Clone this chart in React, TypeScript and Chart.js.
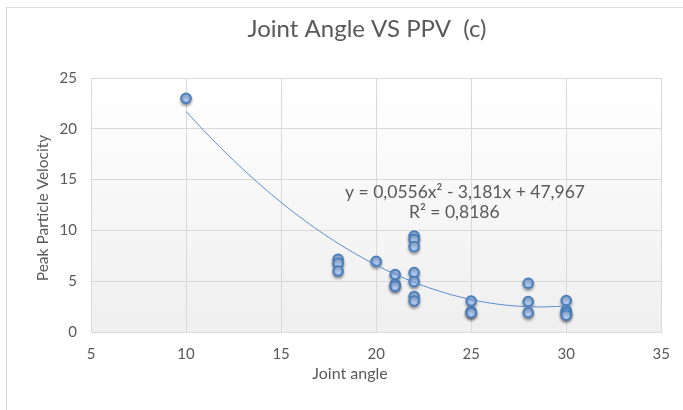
import React, { useEffect, useRef } from "react";
import { Chart, registerables } from "chart.js";

Chart.register(...registerables);

const TITLE = "Joint Angle VS PPV  (c)";
const X_TITLE = "Joint angle";
const Y_TITLE = "Peak Particle Velocity";

const jointAngle = [10, 18, 18, 18, 20, 21, 21, 21, 22, 22, 22, 22, 22, 22, 22, 25, 25, 25, 28, 28, 28, 30, 30, 30, 30];
const ppv = [23.0, 7.15, 6.75, 6.0, 6.95, 5.65, 4.7, 4.5, 9.45, 9.1, 8.4, 5.85, 4.95, 3.5, 3.05, 3.05, 2.0, 1.9, 4.8, 3.0, 1.9, 3.1, 2.1, 1.9, 1.65];

// Trendline coefficients as printed on the chart
const trendA = 0.0556;
const trendB = -3.181;
const trendC = 47.967;
const trendFrom = 10;
const trendTo = 30;
const EQUATION = "y = 0,0556x² - 3,181x + 47,967";
const R2_TEXT = "R² = 0,8186";

const X_MIN = 5, X_MAX = 35, Y_MIN = 0, Y_MAX = 25, STEP = 5;

const FONT = "Lato, 'Open Sans', sans-serif";
const TEXT = "#595959";

export default function App() {
  const ref = useRef<HTMLCanvasElement>(null);
  useEffect(() => {
    document.body.style.margin = "0";
    const canvas = ref.current!;
    const points = jointAngle.map((x, i) => ({ x, y: ppv[i] }));
    const trend: { x: number; y: number }[] = [];
    for (let x = trendFrom; x <= trendTo + 1e-9; x += 0.25) {
      trend.push({ x, y: trendA * x * x + trendB * x + trendC });
    }

    const deco = {
      id: "deco",
      beforeDraw(chart: any) {
        const { ctx, chartArea: a } = chart;
        ctx.save();
        ctx.fillStyle = "#ffffff";
        ctx.fillRect(0, 0, chart.width, chart.height);
        ctx.strokeStyle = "#d9d9d9";
        ctx.lineWidth = 1;
        ctx.strokeRect(6.5, 7.5, 800, 600);
        const g = ctx.createLinearGradient(0, a.top, 0, a.bottom);
        g.addColorStop(0, "#ffffff");
        g.addColorStop(1, "#efefef");
        ctx.fillStyle = g;
        ctx.fillRect(a.left, a.top, a.right - a.left, a.bottom - a.top);
        ctx.restore();
      },
      afterDraw(chart: any) {
        const { ctx, chartArea: a } = chart;
        ctx.save();
        ctx.strokeStyle = "#d9d9d9";
        ctx.lineWidth = 1;
        ctx.strokeRect(Math.round(a.left) + 0.5, Math.round(a.top) + 0.5, Math.round(a.right - a.left), Math.round(a.bottom - a.top));
        ctx.fillStyle = TEXT;
        ctx.textBaseline = "middle";
        ctx.textAlign = "center";
        ctx.font = `24px ${FONT}`;
        ctx.fillText(TITLE, 367, 29);
        ctx.font = `16px ${FONT}`;
        ctx.fillText(X_TITLE, 350, 374);
        ctx.save();
        ctx.font = `15.5px ${FONT}`;
        ctx.translate(43, 208);
        ctx.rotate(-Math.PI / 2);
        ctx.fillText(Y_TITLE, 0, 0);
        ctx.restore();
        ctx.font = `17.5px ${FONT}`;
        ctx.textAlign = "left";
        ctx.fillText(EQUATION, 345, 192);
        ctx.fillText(R2_TEXT, 409, 212);
        ctx.restore();
      },
    };

    const shadow = {
      id: "shadow",
      beforeDatasetDraw(chart: any, args: any) {
        if (args.index === 1) {
          chart.ctx.save();
          chart.ctx.shadowColor = "rgba(0,0,0,0.35)";
          chart.ctx.shadowBlur = 3;
          chart.ctx.shadowOffsetY = 2;
        }
      },
      afterDatasetDraw(chart: any, args: any) {
        if (args.index === 1) chart.ctx.restore();
      },
    };

    const chart = new Chart(canvas, {
      type: "scatter",
      data: {
        datasets: [
          {
            type: "line",
            data: trend,
            borderColor: "#5b8cd0",
            borderWidth: 1,
            pointRadius: 0,
            fill: false,
            tension: 0,
          } as any,
          {
            data: points,
            backgroundColor: "#adc8f2",
            borderColor: "#4a7ebb",
            borderWidth: 2,
            pointRadius: 4.8,
          },
        ],
      },
      options: {
        animation: false,
        responsive: false,
        devicePixelRatio: 1,
        layout: { autoPadding: false, padding: { left: 0, top: 78, right: 20, bottom: 28 } },
        plugins: { legend: { display: false }, tooltip: { enabled: false }, title: { display: false } },
        scales: {
          x: {
            type: "linear",
            min: X_MIN,
            max: X_MAX,
            ticks: { stepSize: STEP, color: TEXT, font: { family: FONT, size: 15 }, padding: 13 },
            grid: { color: "#d9d9d9", drawTicks: false },
            border: { display: false },
            afterFit: (s: any) => { s.height = 50; },
          },
          y: {
            min: Y_MIN,
            max: Y_MAX,
            ticks: { stepSize: STEP, color: TEXT, font: { family: FONT, size: 15 }, padding: 14 },
            grid: { color: "#d9d9d9", drawTicks: false },
            border: { display: false },
            afterFit: (s: any) => { s.width = 91; },
          },
        },
      },
      plugins: [deco, shadow],
    });
    return () => chart.destroy();
  }, []);
  return <canvas ref={ref} width={683} height={410} style={{ display: "block" }} />;
}
